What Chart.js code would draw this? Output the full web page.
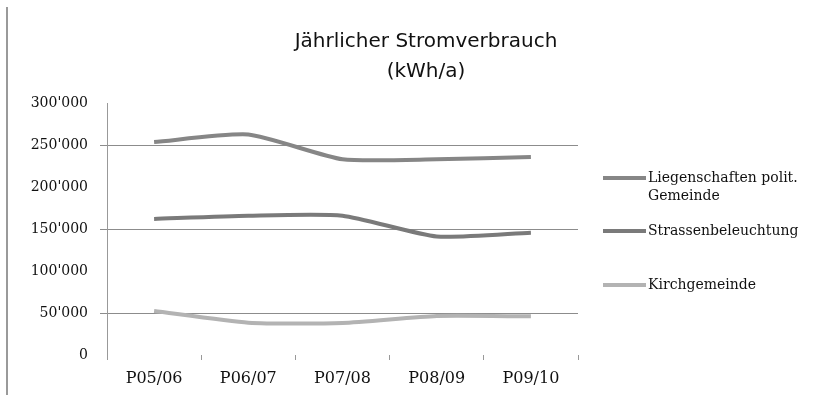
<!DOCTYPE html>
<html>
<head>
<meta charset="utf-8">
<script src="https://cdn.jsdelivr.net/npm/chart.js@4"></script>
<style>
  html, body { margin: 0; padding: 0; background: #fff; }
  #wrap { width: 833px; height: 395px; position: relative; }
</style>
</head>
<body>
<div id="wrap"><canvas id="grafico" width="833" height="395"></canvas></div>
<script>
const periodos = ['P05/06', 'P06/07', 'P07/08', 'P08/09', 'P09/10'];
const liegenschaften = [253500, 262500, 233000, 233000, 235700];
const strassen = [162000, 165800, 165800, 141000, 145600];
const kirche = [52400, 38500, 38100, 46400, 46000];
const titelZeilen = ['Jährlicher Stromverbrauch', '(kWh/a)'];
const legendeTexte = [['Liegenschaften polit.', 'Gemeinde'], ['Strassenbeleuchtung'], ['Kirchgemeinde']];
const gitterWerte = [50000, 150000, 250000];

const serif = "'DejaVu Serif', serif";

function formatZahl(v) {
  return String(v).replace(/\B(?=(\d{3})+(?!\d))/g, "'");
}

// title, legend and left frame line
const extras = {
  id: 'extras',
  afterDraw(chart) {
    const ctx = chart.ctx;
    ctx.save();
    ctx.strokeStyle = '#9a9a9a';
    ctx.lineWidth = 2;
    ctx.beginPath();
    ctx.moveTo(7, 7);
    ctx.lineTo(7, 395);
    ctx.stroke();

    ctx.fillStyle = '#111';
    ctx.textAlign = 'center';
    ctx.textBaseline = 'middle';
    ctx.font = "20px 'DejaVu Sans', sans-serif";
    titelZeilen.forEach((t, i) => ctx.fillText(t, 426, 42 + i * 30));

    const ys = [178, 231, 285];
    ctx.textAlign = 'left';
    ctx.font = '14px ' + serif;
    chart.data.datasets.forEach((ds, i) => {
      ctx.strokeStyle = ds.borderColor;
      ctx.lineWidth = ds.borderWidth;
      ctx.beginPath();
      ctx.moveTo(603, ys[i]);
      ctx.lineTo(646, ys[i]);
      ctx.stroke();
      ctx.fillStyle = '#111';
      legendeTexte[i].forEach((t, j) => ctx.fillText(t, 648, ys[i] + j * 18));
    });
    ctx.restore();
  }
};

new Chart(document.getElementById('grafico'), {
  type: 'line',
  data: {
    labels: periodos,
    datasets: [
      { label: legendeTexte[0].join(' '), data: liegenschaften, borderColor: '#868686', borderWidth: 4 },
      { label: legendeTexte[1][0], data: strassen, borderColor: '#7a7a7a', borderWidth: 4 },
      { label: legendeTexte[2][0], data: kirche, borderColor: '#b3b3b3', borderWidth: 4 }
    ]
  },
  options: {
    responsive: false,
    animation: false,
    elements: { point: { radius: 0 }, line: { tension: 0.2 } },
    layout: { padding: { top: 103, right: 255, left: 0, bottom: 0 } },
    plugins: { legend: { display: false }, title: { display: false }, tooltip: { enabled: false } },
    scales: {
      x: {
        offset: true,
        afterFit(s) { s.height = 40; },
        border: { display: false },
        grid: { offset: true, drawOnChartArea: false, tickLength: 5, color: '#999' },
        ticks: { color: '#111', padding: 9, font: { size: 16, family: serif } }
      },
      y: {
        min: 0,
        max: 300000,
        afterFit(s) { s.width = 107; },
        border: { display: true, color: '#999', width: 1 },
        grid: {
          tickLength: 7,
          color: c => gitterWerte.includes(c.tick && c.tick.value) ? '#8c8c8c' : 'rgba(0,0,0,0)',
          lineWidth: 1
        },
        ticks: {
          stepSize: 50000,
          padding: 12,
          color: '#111',
          font: { size: 14, family: serif },
          callback: v => formatZahl(v)
        }
      }
    }
  },
  plugins: [extras]
});
</script>
</body>
</html>
